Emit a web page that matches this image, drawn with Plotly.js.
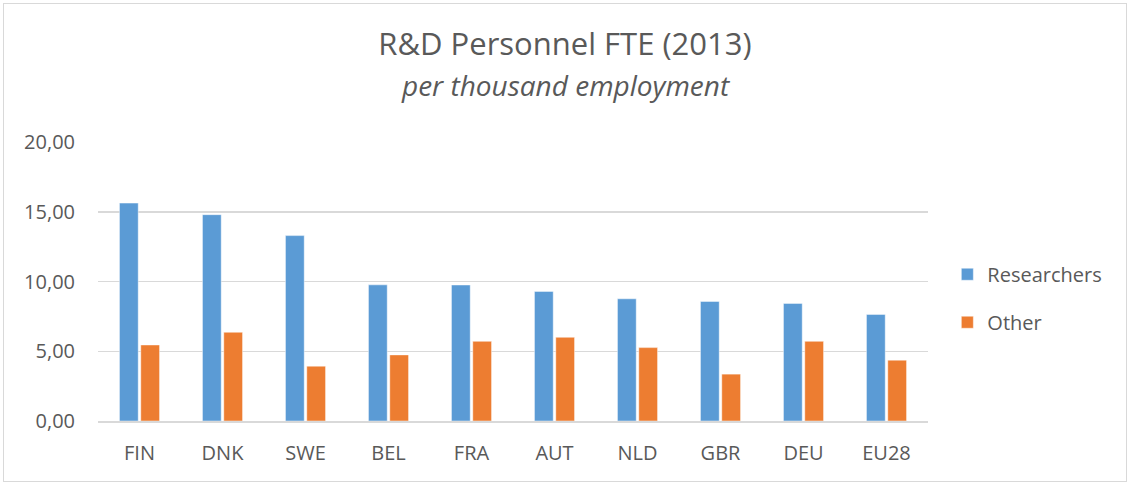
<!DOCTYPE html>
<html>
<head>
<meta charset="utf-8">
<script src="https://cdn.plot.ly/plotly-3.0.1.min.js"></script>
<style>
html,body{margin:0;padding:0;background:#fff;}
#wrap{position:relative;width:1130px;height:484px;}
#chart{width:1130px;height:484px;}
#frame{position:absolute;left:3px;top:3px;width:1124px;height:479px;border:1px solid #D9D9D9;pointer-events:none;box-sizing:border-box;}
</style>
</head>
<body>
<div id="wrap"><div id="chart"></div><div id="frame"></div></div>
<script>
const categories = ["FIN","DNK","SWE","BEL","FRA","AUT","NLD","GBR","DEU","EU28"];
const researchers = [15.62,14.79,13.29,9.76,9.75,9.29,8.76,8.57,8.43,7.64];
const other = [5.45,6.36,3.93,4.74,5.71,6.00,5.26,3.36,5.71,4.36];
const yTicks = [0,5,10,15,20];
const titleText = "R&D Personnel FTE (2013)";
const subtitleText = "per thousand employment";

const font = "Open Sans, Noto Sans, sans-serif";
const txt = "#595959";

const traces = [
  {type:"bar", name:"Researchers", x:categories, y:researchers, legendgroup:"a",
   marker:{color:"#5B9BD5", line:{color:"rgba(255,255,255,0.45)", width:1}}},
  {type:"bar", name:"Other", x:categories, y:other, legendgroup:"b",
   marker:{color:"#ED7D31", line:{color:"rgba(255,255,255,0.45)", width:1}}}
];

const layout = {
  width:1130, height:484,
  margin:{l:98, r:202, t:142, b:63},
  paper_bgcolor:"#fff", plot_bgcolor:"#fff",
  separators:",.",
  font:{family:font, color:txt, size:20},
  title:{text:titleText, font:{family:font, size:31, color:txt},
         x:0.5, xref:"container", xanchor:"center", y:0.909, yref:"container", yanchor:"middle"},
  annotations:[{text:"<i>"+subtitleText+"</i>", xref:"paper", yref:"paper", x:0.564, y:1.203,
                xanchor:"center", yanchor:"middle", showarrow:false, font:{family:font, size:28, color:txt}}],
  barmode:"group", bargap:0.486, bargroupgap:0.12,
  xaxis:{type:"category", showgrid:false, showline:true, linecolor:"#D9D9D9", linewidth:1.5,
         ticks:"", tickfont:{size:20, color:txt}, zeroline:false, ticklabelstandoff:13},
  yaxis:{range:[0,20], tickvals:yTicks, tickformat:".2f", showgrid:true, gridcolor:"#D9D9D9", gridwidth:1.5,
         zeroline:false, showline:false, ticks:"", tickfont:{size:20, color:txt}, ticklabelstandoff:22},
  legend:{x:1.0233, xanchor:"left", y:0.44, yanchor:"middle", font:{size:20, color:txt},
          tracegroupgap:19, bgcolor:"rgba(0,0,0,0)"},
  showlegend:true
};

Plotly.newPlot("chart", traces, layout, {displayModeBar:false, staticPlot:true});
</script>
</body>
</html>
